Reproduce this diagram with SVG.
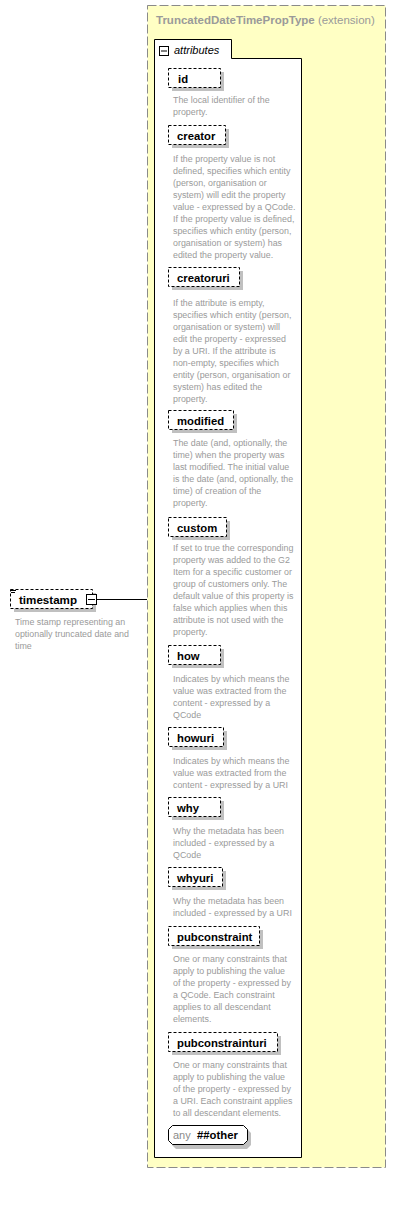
<svg xmlns="http://www.w3.org/2000/svg" width="413" height="1222" viewBox="0 0 413 1222">
<style>
.bg{fill:#ffffff}
.ext{fill:#ffffc4;stroke:#8a8a8a;stroke-width:1;stroke-dasharray:9,3}
.hdr{font-family:"Liberation Sans",Arial,sans-serif;font-size:11.5px;font-weight:bold;fill:#9a9a9a}
.hdrn{font-family:"Liberation Sans",Arial,sans-serif;font-size:11.5px;font-weight:normal;fill:#9a9a9a}
.grp{fill:#ffffff;stroke:#000;stroke-width:1}
.ital{font-family:"Liberation Sans",Arial,sans-serif;font-size:11px;font-style:italic;fill:#000}
.sh{fill:#c0c0c0}
.att{fill:#ffffff;stroke:#000;stroke-width:1;stroke-dasharray:3,2}
.lbl{font-family:"Liberation Sans",Arial,sans-serif;font-size:11.3px;font-weight:bold;fill:#000}
.desc{font-family:"Liberation Sans",Arial,sans-serif;font-size:8.9px;fill:#9a9a9a}
.anyt{font-family:"Liberation Sans",Arial,sans-serif;font-size:11px;fill:#8a8a8a}
.pm{fill:#fff;stroke:#000;stroke-width:1}
.ln{stroke:#000;stroke-width:1;fill:none}
</style>
<rect class="bg" x="0" y="0" width="413" height="1222"/>

<g id="extension">
<rect class="ext" x="147.5" y="5.5" width="238" height="1162"/>
<text class="hdr" x="156" y="24">TruncatedDateTimePropType<tspan class="hdrn"> (extension)</tspan></text>
</g>

<g id="attributes">
<path class="grp" d="M154.5,39.5 H231.5 V58.5 H301.5 V1157.5 H154.5 Z"/>
<rect class="pm" x="159.5" y="46.5" width="9" height="9"/>
<line class="ln" x1="161" y1="51" x2="167" y2="51"/>
<text class="ital" x="174" y="54">attributes</text>
</g>

<g id="connectors">
<line class="ln" x1="96" y1="599.5" x2="147" y2="599.5"/>
</g>

<g id="timestamp">
<rect class="sh" x="14" y="593" width="82" height="19"/>
<rect class="att" x="10.5" y="589.5" width="82" height="19"/>
<line class="ln" x1="11" y1="590.5" x2="16" y2="590.5"/>
<line class="ln" x1="11" y1="592.5" x2="15" y2="592.5"/>
<text class="lbl" x="19" y="604" style="font-size:11.6px">timestamp</text>
<rect class="pm" x="86.5" y="594.5" width="10" height="10"/>
<line class="ln" x1="88" y1="599.5" x2="95" y2="599.5"/>
<text class="desc" x="15" y="625">Time stamp representing an</text>
<text class="desc" x="15" y="637">optionally truncated date and</text>
<text class="desc" x="15" y="649">time</text>
</g>

<g id="id">
<rect class="sh" x="172" y="72" width="52" height="19"/>
<rect class="att" x="168.5" y="68.5" width="52" height="19"/>
<text class="lbl" x="178" y="83">id</text>
<text class="desc" x="173" y="103">The local identifier of the</text>
<text class="desc" x="173" y="115">property.</text>
</g>

<g id="creator">
<rect class="sh" x="172" y="129" width="57" height="19"/>
<rect class="att" x="168.5" y="125.5" width="57" height="19"/>
<text class="lbl" x="177" y="140">creator</text>
<text class="desc" x="173" y="162">If the property value is not</text>
<text class="desc" x="173" y="174">defined, specifies which entity</text>
<text class="desc" x="173" y="186">(person, organisation or</text>
<text class="desc" x="173" y="198">system) will edit the property</text>
<text class="desc" x="173" y="210">value - expressed by a QCode.</text>
<text class="desc" x="173" y="222">If the property value is defined,</text>
<text class="desc" x="173" y="234">specifies which entity (person,</text>
<text class="desc" x="173" y="246">organisation or system) has</text>
<text class="desc" x="173" y="258">edited the property value.</text>
</g>

<g id="creatoruri">
<rect class="sh" x="172" y="271" width="71" height="19"/>
<rect class="att" x="168.5" y="267.5" width="71" height="19"/>
<text class="lbl" x="177" y="282">creatoruri</text>
<text class="desc" x="173" y="306">If the attribute is empty,</text>
<text class="desc" x="173" y="318">specifies which entity (person,</text>
<text class="desc" x="173" y="330">organisation or system) will</text>
<text class="desc" x="173" y="342">edit the property - expressed</text>
<text class="desc" x="173" y="354">by a URI. If the attribute is</text>
<text class="desc" x="173" y="366">non-empty, specifies which</text>
<text class="desc" x="173" y="378">entity (person, organisation or</text>
<text class="desc" x="173" y="390">system) has edited the</text>
<text class="desc" x="173" y="402">property.</text>
</g>

<g id="modified">
<rect class="sh" x="172" y="414" width="65" height="19"/>
<rect class="att" x="168.5" y="410.5" width="65" height="19"/>
<text class="lbl" x="177" y="425">modified</text>
<text class="desc" x="173" y="446">The date (and, optionally, the</text>
<text class="desc" x="173" y="458">time) when the property was</text>
<text class="desc" x="173" y="470">last modified. The initial value</text>
<text class="desc" x="173" y="482">is the date (and, optionally, the</text>
<text class="desc" x="173" y="494">time) of creation of the</text>
<text class="desc" x="173" y="506">property.</text>
</g>

<g id="custom">
<rect class="sh" x="172" y="521" width="58" height="19"/>
<rect class="att" x="168.5" y="517.5" width="58" height="19"/>
<text class="lbl" x="177" y="532">custom</text>
<text class="desc" x="173" y="551">If set to true the corresponding</text>
<text class="desc" x="173" y="563">property was added to the G2</text>
<text class="desc" x="173" y="575">Item for a specific customer or</text>
<text class="desc" x="173" y="587">group of customers only. The</text>
<text class="desc" x="173" y="599">default value of this property is</text>
<text class="desc" x="173" y="611">false which applies when this</text>
<text class="desc" x="173" y="623">attribute is not used with the</text>
<text class="desc" x="173" y="635">property.</text>
</g>

<g id="how">
<rect class="sh" x="172" y="649" width="52" height="19"/>
<rect class="att" x="168.5" y="645.5" width="52" height="19"/>
<text class="lbl" x="177" y="660">how</text>
<text class="desc" x="173" y="682">Indicates by which means the</text>
<text class="desc" x="173" y="694">value was extracted from the</text>
<text class="desc" x="173" y="706">content - expressed by a</text>
<text class="desc" x="173" y="718">QCode</text>
</g>

<g id="howuri">
<rect class="sh" x="172" y="731" width="55" height="19"/>
<rect class="att" x="168.5" y="727.5" width="55" height="19"/>
<text class="lbl" x="177" y="742">howuri</text>
<text class="desc" x="173" y="764">Indicates by which means the</text>
<text class="desc" x="173" y="776">value was extracted from the</text>
<text class="desc" x="173" y="788">content - expressed by a URI</text>
</g>

<g id="why">
<rect class="sh" x="172" y="801" width="52" height="19"/>
<rect class="att" x="168.5" y="797.5" width="52" height="19"/>
<text class="lbl" x="177" y="812">why</text>
<text class="desc" x="173" y="834">Why the metadata has been</text>
<text class="desc" x="173" y="846">included - expressed by a</text>
<text class="desc" x="173" y="858">QCode</text>
</g>

<g id="whyuri">
<rect class="sh" x="172" y="871" width="54" height="19"/>
<rect class="att" x="168.5" y="867.5" width="54" height="19"/>
<text class="lbl" x="177" y="882">whyuri</text>
<text class="desc" x="173" y="904">Why the metadata has been</text>
<text class="desc" x="173" y="916">included - expressed by a URI</text>
</g>

<g id="pubconstraint">
<rect class="sh" x="172" y="930" width="91" height="19"/>
<rect class="att" x="168.5" y="926.5" width="91" height="19"/>
<text class="lbl" x="177" y="941">pubconstraint</text>
<text class="desc" x="173" y="962">One or many constraints that</text>
<text class="desc" x="173" y="974">apply to publishing the value</text>
<text class="desc" x="173" y="986">of the property - expressed by</text>
<text class="desc" x="173" y="998">a QCode. Each constraint</text>
<text class="desc" x="173" y="1010">applies to all descendant</text>
<text class="desc" x="173" y="1022">elements.</text>
</g>

<g id="pubconstrainturi">
<rect class="sh" x="172" y="1036" width="109" height="19"/>
<rect class="att" x="168.5" y="1032.5" width="109" height="19"/>
<text class="lbl" x="177" y="1047">pubconstrainturi</text>
<text class="desc" x="173" y="1068">One or many constraints that</text>
<text class="desc" x="173" y="1080">apply to publishing the value</text>
<text class="desc" x="173" y="1092">of the property - expressed by</text>
<text class="desc" x="173" y="1104">a URI. Each constraint applies</text>
<text class="desc" x="173" y="1116">to all descendant elements.</text>
</g>

<g id="any">
<path class="sh" d="M176,1129 H247 L251,1133 V1145 L247,1149 H176 L172,1145 V1133 Z"/>
<path class="grp" d="M172.5,1125.5 H243.5 L247.5,1129.5 V1140.5 L243.5,1144.5 H172.5 L168.5,1140.5 V1129.5 Z"/>
<text class="anyt" x="173" y="1139">any</text>
<text class="lbl" x="197" y="1139">##other</text>
</g>
</svg>
